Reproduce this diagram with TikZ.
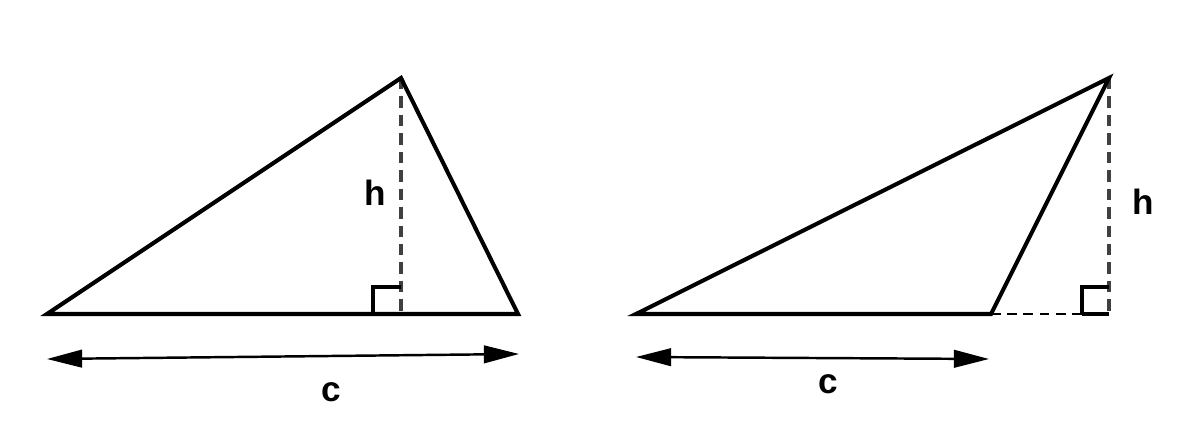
\documentclass[tikz,border=0pt]{standalone}
\usepackage{fontspec}
\setmainfont{Liberation Sans}
\usetikzlibrary{arrows.meta}
\tikzset{
  side/.style={line width=2.3pt, line join=miter},
  height/.style={line width=2.3pt, draw=black!75, dash pattern=on 6.5pt off 4pt},
  ext/.style={line width=1.4pt, dash pattern=on 5.6pt off 3.6pt},
  rbox/.style={line width=2.3pt},
  measure/.style={line width=1.4pt, {Triangle[length=20pt,width=10pt]}-{Triangle[length=20pt,width=10pt]}},
  lbl/.style={font=\bfseries\fontsize{20}{22}\selectfont, inner sep=0pt}
}
\begin{document}
\begin{tikzpicture}[x=0.02cm, y=-0.02cm]
\useasboundingbox (0,0) rectangle (1195,428);
% left triangle
\coordinate (A1) at (47,314);
\coordinate (B1) at (518,314);
\coordinate (C1) at (401,78);
\coordinate (F1) at (401,314);
\draw[height] (C1) -- (F1);
\draw[rbox] (F1) ++(-28,0) |- ++(28,-27);
\draw[side] (A1) -- (B1) -- (C1) -- cycle;
\coordinate (L1) at (47,359);
\coordinate (R1) at (519,354);
\draw[measure] (L1) -- (R1);
\node[lbl] (c1) at (331,392) {c};
\node[lbl] (h1) at (375,193) {h};
% right triangle
\coordinate (A2) at (636,314);
\coordinate (B2) at (991,314);
\coordinate (C2) at (1109,78);
\coordinate (F2) at (1109,314);
\draw[ext] (B2) -- (F2);
\draw[height] (C2) -- (F2);
\draw[rbox] (F2) ++(-27,0) |- ++(27,-27);
\draw[rbox] (1082,314) -- (F2);
\draw[side] (A2) -- (B2) -- (C2) -- cycle;
\coordinate (L2) at (636,357);
\coordinate (R2) at (989,359);
\draw[measure] (L2) -- (R2);
\node[lbl] (c2) at (828,384) {c};
\node[lbl] (h2) at (1143,202) {h};
\end{tikzpicture}
\end{document}
